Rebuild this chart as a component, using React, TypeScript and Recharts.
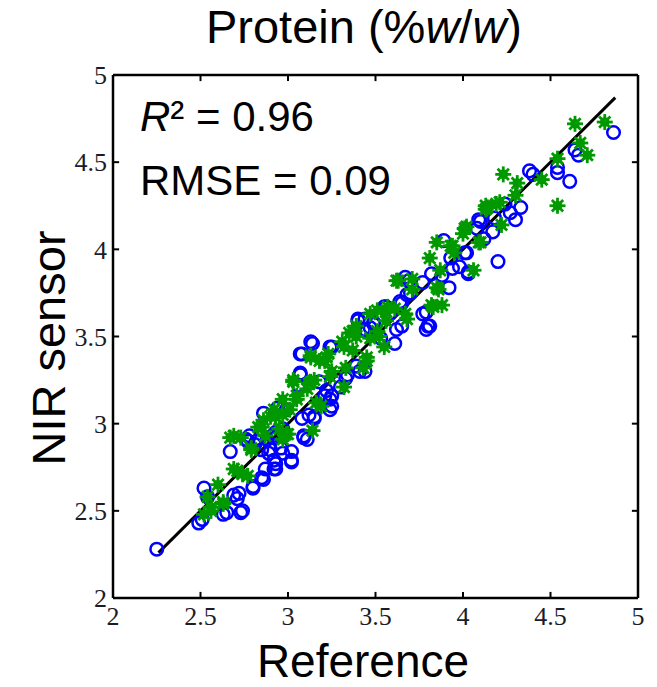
import { ScatterChart, Scatter, XAxis, YAxis, ReferenceLine } from "recharts";

// blue circles: calibration set [reference, NIR]
const calibration: [number, number][] = [
  [2.25, 2.28], [2.49, 2.43], [2.51, 2.45], [2.52, 2.63], [2.54, 2.58], [2.63, 2.48], [2.65, 2.49],
  [2.73, 2.49], [2.74, 2.5], [2.71, 2.57], [2.69, 2.59], [2.72, 2.6], [2.67, 2.84], [2.8, 2.64],
  [2.8, 2.63], [2.85, 2.69], [2.86, 2.68], [2.87, 2.74], [2.92, 2.74], [2.93, 2.74], [2.93, 2.77],
  [3.02, 2.78], [3.02, 2.79], [3.02, 2.84], [2.97, 2.83], [2.89, 2.83], [2.9, 2.85], [2.85, 2.85],
  [2.96, 2.86], [2.81, 2.88], [2.77, 2.9], [2.76, 2.91], [2.82, 2.9], [2.88, 2.91], [2.92, 2.79],
  [2.93, 2.95], [2.78, 2.93], [2.86, 3.06], [2.94, 3.09], [3.09, 2.92], [3.11, 2.91], [3.09, 2.93],
  [3.15, 3.04], [3.15, 3.03], [3.08, 3.03], [3.12, 3.05], [2.97, 2.97], [2.93, 2.92], [2.91, 2.93],
  [2.99, 3.08], [3.07, 3.28], [3.07, 3.29], [3.06, 3.22], [3.07, 3.4], [3.08, 3.4], [3.13, 3.47],
  [3.14, 3.46], [3.21, 3.16], [3.25, 3.1], [3.24, 3.08], [3.24, 3.14], [3.25, 3.16], [3.22, 3.19],
  [3.18, 3.24], [3.25, 3.44], [3.24, 3.44], [3.3, 3.21], [3.34, 3.28], [3.33, 3.26], [3.39, 3.33],
  [3.41, 3.3], [3.44, 3.3], [3.4, 3.59], [3.43, 3.54], [3.47, 3.55], [3.44, 3.6], [3.45, 3.53],
  [3.49, 3.57], [3.49, 3.58], [3.4, 3.6], [3.53, 3.49], [3.55, 3.67], [3.56, 3.67], [3.61, 3.46],
  [3.62, 3.54], [3.65, 3.56], [3.65, 3.69], [3.58, 3.63], [3.64, 3.7], [3.67, 3.84], [3.69, 3.82],
  [3.68, 3.74], [3.7, 3.75], [3.77, 3.63], [3.79, 3.54], [3.79, 3.64], [3.8, 3.56], [3.81, 3.56],
  [3.77, 3.81], [3.82, 3.86], [3.88, 3.85], [3.92, 3.78], [3.94, 3.89], [3.89, 4.05], [3.93, 3.95],
  [3.98, 3.9], [4.03, 3.86], [4.01, 3.98], [4.02, 3.98], [4.03, 3.87], [4.08, 4.12], [4.1, 4.16],
  [4.09, 4.17], [4.12, 4.06], [4.17, 4.1], [4.18, 4.18], [4.2, 3.93], [4.24, 4.26], [4.27, 4.21],
  [4.3, 4.17], [4.33, 4.24], [4.38, 4.45], [4.4, 4.43], [4.54, 4.47], [4.54, 4.44], [4.61, 4.39],
  [4.64, 4.57], [4.66, 4.54], [4.86, 4.67],
];

// green asterisks: validation set
const validation: [number, number][] = [
  [2.52, 2.48], [2.54, 2.58], [2.56, 2.5], [2.56, 2.52], [2.6, 2.65], [2.63, 2.55], [2.63, 2.54],
  [2.67, 2.92], [2.69, 2.74], [2.71, 2.73], [2.74, 2.71], [2.77, 2.7], [2.79, 2.85],
  [2.79, 2.86], [2.83, 2.98], [2.85, 2.98], [2.69, 2.93], [2.73, 2.92], [2.86, 3.02], [2.87, 2.93],
  [2.9, 3.04], [2.92, 3.08], [2.93, 3.04], [2.95, 2.97], [2.97, 2.91], [2.97, 3.05], [2.97, 3.14],
  [2.99, 2.94], [3.0, 2.94], [3.01, 3.08], [3.03, 3.24], [3.03, 3.25], [3.05, 3.16], [3.05, 3.14],
  [3.11, 3.2], [3.12, 3.23], [3.13, 3.24], [3.14, 2.96], [3.15, 3.25], [3.16, 3.12], [3.19, 3.1],
  [3.13, 3.38], [3.13, 3.39], [3.18, 3.36], [3.21, 3.36], [3.22, 3.38], [3.23, 3.4], [3.24, 3.27],
  [3.25, 3.3], [3.31, 3.47], [3.32, 3.44], [3.32, 3.21], [3.33, 3.32], [3.35, 3.52], [3.37, 3.53],
  [3.37, 3.42], [3.39, 3.56], [3.39, 3.5], [3.43, 3.32], [3.45, 3.38], [3.45, 3.36], [3.47, 3.63],
  [3.47, 3.49], [3.51, 3.53], [3.51, 3.65], [3.52, 3.5], [3.55, 3.44], [3.56, 3.59], [3.56, 3.64],
  [3.57, 3.67], [3.61, 3.66], [3.62, 3.82], [3.63, 3.82], [3.67, 3.63], [3.68, 3.6], [3.71, 3.83],
  [3.71, 3.77], [3.82, 3.68], [3.83, 3.67], [3.88, 3.68], [3.85, 3.78], [3.86, 3.77], [3.81, 3.95],
  [3.85, 4.04], [3.87, 3.88], [3.93, 4.02], [3.94, 4.02], [3.95, 3.98], [4.0, 4.09], [4.01, 4.12],
  [4.02, 4.13], [4.06, 3.88], [4.09, 4.04], [4.1, 4.04], [4.13, 4.23], [4.13, 4.25], [4.14, 4.24],
  [4.19, 4.26], [4.21, 4.27], [4.22, 4.14], [4.23, 4.43], [4.3, 4.31], [4.31, 4.38], [4.45, 4.4],
  [4.54, 4.25], [4.54, 4.52], [4.64, 4.72], [4.67, 4.61], [4.71, 4.54], [4.81, 4.73],
];

const ticks = [2, 2.5, 3, 3.5, 4, 4.5, 5];
const fitRange = [2.26, 4.87]; // 1:1 fit line, y = x
const TICK_LEN = 0.035; // inward tick length in axis units

const calData = calibration.map(([x, y]) => ({ x, y }));
const valData = validation.map(([x, y]) => ({ x, y }));

const SANS = "'Liberation Sans', Arial, sans-serif";
const SERIF = "'Liberation Serif', 'Times New Roman', serif";
const tickStyle = { fontFamily: SERIF, fontSize: 26, fill: "#1c1c28" };
const frame = { stroke: "#000", strokeWidth: 2.5 };

const Circle = (props: any) => (
  <circle cx={props.cx} cy={props.cy} r={6.3} fill="none" stroke="#0000ff" strokeWidth={2.5} />
);

const Asterisk = (props: any) => {
  const { cx, cy } = props;
  const r = 8;
  const d = r * 0.707;
  return (
    <g stroke="#009900" strokeWidth={2.8} fill="#009900">
      <line x1={cx - r} y1={cy} x2={cx + r} y2={cy} />
      <line x1={cx} y1={cy - r} x2={cx} y2={cy + r} />
      <line x1={cx - d} y1={cy - d} x2={cx + d} y2={cy + d} />
      <line x1={cx - d} y1={cy + d} x2={cx + d} y2={cy - d} />
      <circle cx={cx} cy={cy} r={4.8} stroke="none" />
    </g>
  );
};

export default function App() {
  const inner = ticks.slice(1, -1);
  return (
    <div style={{ position: "absolute", left: 0, top: 0, width: 657, height: 687, background: "#fff" }}>
      <ScatterChart width={657} height={687} margin={{ top: 75, right: 19, bottom: 49, left: 73 }}>
        <XAxis
          type="number"
          dataKey="x"
          domain={[2, 5]}
          ticks={ticks}
          interval={0}
          height={40}
          tickSize={0}
          tickMargin={9}
          tick={tickStyle}
          axisLine={frame}
          tickLine={false}
          allowDataOverflow
        />
        <YAxis
          type="number"
          dataKey="y"
          domain={[2, 5]}
          ticks={ticks}
          interval={0}
          width={40}
          tickSize={0}
          tickMargin={6}
          tick={tickStyle}
          axisLine={frame}
          tickLine={false}
          allowDataOverflow
        />
        <ReferenceLine y={5} {...frame} />
        <ReferenceLine x={5} {...frame} />
        {inner.map((t) => (
          <ReferenceLine key={`b${t}`} segment={[{ x: t, y: 2 }, { x: t, y: 2 + TICK_LEN }]} stroke="#000" strokeWidth={2} />
        ))}
        {inner.map((t) => (
          <ReferenceLine key={`t${t}`} segment={[{ x: t, y: 5 }, { x: t, y: 5 - TICK_LEN }]} stroke="#000" strokeWidth={2} />
        ))}
        {inner.map((t) => (
          <ReferenceLine key={`l${t}`} segment={[{ x: 2, y: t }, { x: 2 + TICK_LEN, y: t }]} stroke="#000" strokeWidth={2} />
        ))}
        {inner.map((t) => (
          <ReferenceLine key={`r${t}`} segment={[{ x: 5, y: t }, { x: 5 - TICK_LEN, y: t }]} stroke="#000" strokeWidth={2} />
        ))}
        <Scatter data={calData} shape={Circle} isAnimationActive={false} />
        <Scatter data={valData} shape={Asterisk} isAnimationActive={false} />
        <ReferenceLine
          segment={[
            { x: fitRange[0], y: fitRange[0] },
            { x: fitRange[1], y: fitRange[1] },
          ]}
          stroke="#000"
          strokeWidth={3}
        />
      </ScatterChart>
      <svg
        width={657}
        height={687}
        style={{ position: "absolute", left: 0, top: 0, pointerEvents: "none" }}
      >
        <text x={364} y={43} textAnchor="middle" fontFamily={SANS} fontSize={47} fill="#000">
          Protein (%<tspan fontStyle="italic">w</tspan>/<tspan fontStyle="italic">w</tspan>)
        </text>
        <text
          transform="translate(65,348) rotate(-90)"
          textAnchor="middle"
          fontFamily={SANS}
          fontSize={47}
          fill="#000"
        >
          NIR sensor
        </text>
        <text x={363} y={677} textAnchor="middle" fontFamily={SANS} fontSize={46} fill="#000">
          Reference
        </text>
        <text x={140} y={131} fontFamily={SANS} fontSize={42} fill="#000">
          <tspan fontStyle="italic">R</tspan>² = 0.96
        </text>
        <text x={140} y={195} fontFamily={SANS} fontSize={42} fill="#000">
          RMSE = 0.09
        </text>
      </svg>
    </div>
  );
}
